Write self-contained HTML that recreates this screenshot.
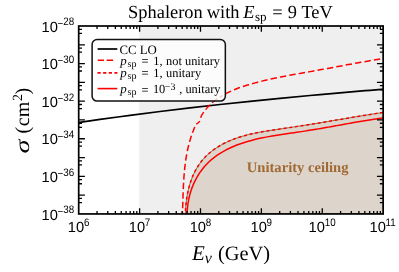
<!DOCTYPE html><html><head><meta charset="utf-8"><style>html,body{margin:0;padding:0;background:#fff}svg{display:block;will-change:transform}text{text-rendering:geometricPrecision}</style></head><body><svg width="399" height="272" viewBox="0 0 399 272">
<rect width="399" height="272" fill="#fff"/>
<defs><clipPath id="c"><rect x="78.70" y="26.00" width="304.45" height="187.95"/></clipPath></defs>
<rect x="139.2" y="26.00" width="243.95" height="187.95" fill="#efefef"/>
<g clip-path="url(#c)" fill="none">
<path d="M185.40,214.44 C185.43,213.59 185.48,211.07 185.57,209.37 C185.66,207.67 185.79,205.96 185.96,204.25 C186.13,202.54 186.32,200.82 186.57,199.11 C186.81,197.40 187.10,195.68 187.43,193.98 C187.76,192.28 188.13,190.59 188.55,188.91 C188.97,187.23 189.42,185.56 189.93,183.92 C190.44,182.27 191.00,180.64 191.60,179.04 C192.20,177.44 192.86,175.86 193.56,174.32 C194.26,172.78 195.01,171.26 195.82,169.79 C196.63,168.32 197.49,166.88 198.40,165.48 C199.31,164.08 200.28,162.72 201.30,161.42 C202.33,160.12 203.42,158.87 204.55,157.66 C205.69,156.45 206.88,155.29 208.11,154.18 C209.35,153.07 210.64,152.01 211.96,150.99 C213.28,149.97 214.65,149.01 216.05,148.08 C217.45,147.15 218.89,146.26 220.35,145.42 C221.81,144.58 223.31,143.79 224.83,143.03 C226.35,142.27 227.88,141.56 229.44,140.88 C231.00,140.20 232.58,139.58 234.16,138.98 C235.74,138.38 237.34,137.82 238.94,137.30 C240.54,136.78 242.16,136.30 243.77,135.84 C245.39,135.38 247.00,134.96 248.63,134.56 C250.25,134.16 251.89,133.80 253.52,133.45 C255.16,133.10 256.80,132.77 258.44,132.46 C260.08,132.15 261.74,131.86 263.39,131.58 C265.04,131.30 266.71,131.02 268.37,130.76 C270.03,130.50 271.69,130.24 273.36,129.99 C275.03,129.74 276.70,129.49 278.38,129.24 C280.06,128.99 281.73,128.74 283.41,128.49 C285.09,128.24 286.77,127.99 288.46,127.74 C290.14,127.49 291.83,127.23 293.52,126.98 C295.21,126.73 296.89,126.48 298.58,126.22 C300.27,125.96 301.97,125.70 303.66,125.44 C305.35,125.18 307.05,124.91 308.74,124.64 C310.43,124.37 312.12,124.10 313.81,123.83 C315.50,123.56 317.20,123.28 318.89,123.00 C320.58,122.72 322.27,122.44 323.96,122.16 C325.65,121.88 327.34,121.59 329.03,121.31 C330.72,121.03 332.41,120.74 334.09,120.46 C335.77,120.18 337.45,119.89 339.13,119.61 C340.81,119.33 342.49,119.03 344.16,118.75 C345.84,118.47 347.51,118.19 349.18,117.91 C350.85,117.63 352.51,117.35 354.17,117.07 C355.83,116.79 357.49,116.51 359.14,116.24 C360.79,115.97 362.44,115.70 364.09,115.43 C365.73,115.16 367.38,114.90 369.01,114.64 C370.64,114.38 372.27,114.12 373.90,113.87 C375.52,113.62 377.15,113.37 378.76,113.12 C380.37,112.88 382.78,112.52 383.58,112.40 L383.15,213.95 L185.40,213.95 Z" fill="#ddd4cb" stroke="#8f6c48" stroke-width="1.0"/>
<path d="M77.00,122.77 C80.83,122.22 91.17,120.68 100.00,119.44 C108.83,118.20 120.00,116.67 130.00,115.34 C140.00,114.02 150.00,112.73 160.00,111.49 C170.00,110.25 180.00,109.05 190.00,107.89 C200.00,106.73 210.00,105.60 220.00,104.51 C230.00,103.42 240.00,102.37 250.00,101.34 C260.00,100.31 270.00,99.31 280.00,98.34 C290.00,97.37 300.00,96.44 310.00,95.52 C320.00,94.60 330.83,93.65 340.00,92.85 C349.17,92.05 357.50,91.35 365.00,90.72 C372.50,90.09 381.67,89.34 385.00,89.07" stroke="#000" stroke-width="1.7"/>
<path d="M182.42,213.98 C182.44,213.35 182.51,211.47 182.56,210.22 C182.61,208.97 182.65,207.72 182.69,206.46 C182.73,205.21 182.77,203.95 182.81,202.69 C182.85,201.43 182.89,200.16 182.93,198.90 C182.97,197.64 183.01,196.38 183.05,195.12 C183.09,193.86 183.14,192.58 183.19,191.32 C183.24,190.06 183.29,188.79 183.35,187.53 C183.41,186.27 183.47,185.00 183.54,183.74 C183.61,182.48 183.68,181.21 183.76,179.95 C183.84,178.69 183.93,177.42 184.02,176.16 C184.12,174.90 184.22,173.65 184.33,172.39 C184.44,171.13 184.56,169.88 184.69,168.62 C184.82,167.37 184.97,166.11 185.12,164.86 C185.27,163.61 185.43,162.36 185.61,161.11 C185.79,159.86 185.98,158.62 186.18,157.38 C186.38,156.14 186.60,154.89 186.83,153.66 C187.06,152.43 187.32,151.20 187.58,149.97 C187.84,148.74 188.12,147.51 188.41,146.29 C188.70,145.07 189.02,143.85 189.35,142.64 C189.68,141.43 190.03,140.22 190.40,139.02 C190.77,137.82 191.16,136.61 191.57,135.42 C191.98,134.22 192.41,133.03 192.86,131.85 C193.31,130.66 193.89,129.45 194.28,128.31 C194.67,127.17 195.05,125.55 195.20,125.00 L199.30,122.00" stroke="#f00" stroke-width="1.5" stroke-dasharray="6.4 3.15" stroke-dashoffset="3.80"/>
<path d="M199.30,122.00 C199.61,121.05 200.41,117.98 201.18,116.29 C201.95,114.61 202.94,113.29 203.92,111.89 C204.90,110.49 205.94,109.15 207.04,107.88 C208.14,106.61 209.31,105.40 210.52,104.25 C211.73,103.10 212.99,102.00 214.30,100.96 C215.61,99.92 216.97,98.93 218.37,97.99 C219.77,97.05 221.97,95.76 222.69,95.31" stroke="#f00" stroke-width="1.5" stroke-dasharray="6.4 3.15" stroke-dashoffset="5.10"/>
<path d="M222.69,95.31 C223.44,94.91 225.67,93.66 227.21,92.89 C228.75,92.12 230.32,91.40 231.91,90.71 C233.50,90.02 235.12,89.37 236.75,88.74 C238.38,88.11 240.03,87.52 241.69,86.95 C243.35,86.38 245.03,85.85 246.71,85.33 C248.39,84.81 250.08,84.31 251.77,83.83 C253.46,83.35 255.14,82.89 256.83,82.44 C258.52,81.99 260.20,81.56 261.89,81.14 C263.58,80.72 265.26,80.32 266.95,79.93 C268.64,79.54 270.32,79.16 272.01,78.79 C273.70,78.42 275.39,78.06 277.08,77.71 C278.77,77.36 280.45,77.02 282.14,76.69 C283.83,76.36 285.52,76.04 287.21,75.72 C288.90,75.40 290.59,75.09 292.28,74.78 C293.97,74.47 295.65,74.16 297.34,73.86 C299.03,73.56 300.73,73.26 302.42,72.96 C304.11,72.66 305.80,72.37 307.49,72.07 C309.18,71.77 310.88,71.47 312.57,71.17 C314.26,70.87 315.95,70.56 317.64,70.25 C319.33,69.94 321.04,69.64 322.73,69.33 C324.43,69.02 326.12,68.70 327.81,68.39 C329.50,68.08 331.20,67.77 332.90,67.45 C334.60,67.14 336.29,66.82 337.99,66.50 C339.69,66.18 341.38,65.86 343.08,65.55 C344.78,65.23 346.48,64.92 348.18,64.61 C349.88,64.30 351.59,63.99 353.29,63.68 C354.99,63.37 356.69,63.05 358.39,62.75 C360.09,62.45 361.81,62.15 363.51,61.85 C365.21,61.55 366.92,61.25 368.62,60.96 C370.32,60.67 372.03,60.38 373.74,60.09 C375.45,59.81 377.16,59.52 378.87,59.25 C380.58,58.98 383.14,58.57 384.00,58.44" stroke="#f00" stroke-width="1.5" stroke-dasharray="6.4 3.15" stroke-dashoffset="6.55"/>
<path d="M185.40,214.44 C185.43,213.59 185.48,211.07 185.57,209.37 C185.66,207.67 185.79,205.96 185.96,204.25 C186.13,202.54 186.32,200.82 186.57,199.11 C186.81,197.40 187.10,195.68 187.43,193.98 C187.76,192.28 188.13,190.59 188.55,188.91 C188.97,187.23 189.42,185.56 189.93,183.92 C190.44,182.27 191.00,180.64 191.60,179.04 C192.20,177.44 192.86,175.86 193.56,174.32 C194.26,172.78 195.01,171.26 195.82,169.79 C196.63,168.32 197.49,166.88 198.40,165.48 C199.31,164.08 200.28,162.72 201.30,161.42 C202.33,160.12 203.42,158.87 204.55,157.66 C205.69,156.45 206.88,155.29 208.11,154.18 C209.35,153.07 210.64,152.01 211.96,150.99 C213.28,149.97 214.65,149.01 216.05,148.08 C217.45,147.15 218.89,146.26 220.35,145.42 C221.81,144.58 223.31,143.79 224.83,143.03 C226.35,142.27 227.88,141.56 229.44,140.88 C231.00,140.20 232.58,139.58 234.16,138.98 C235.74,138.38 237.34,137.82 238.94,137.30 C240.54,136.78 242.16,136.30 243.77,135.84 C245.39,135.38 247.00,134.96 248.63,134.56 C250.25,134.16 251.89,133.80 253.52,133.45 C255.16,133.10 256.80,132.77 258.44,132.46 C260.08,132.15 261.74,131.86 263.39,131.58 C265.04,131.30 266.71,131.02 268.37,130.76 C270.03,130.50 271.69,130.24 273.36,129.99 C275.03,129.74 276.70,129.49 278.38,129.24 C280.06,128.99 281.73,128.74 283.41,128.49 C285.09,128.24 286.77,127.99 288.46,127.74 C290.14,127.49 291.83,127.23 293.52,126.98 C295.21,126.73 296.89,126.48 298.58,126.22 C300.27,125.96 301.97,125.70 303.66,125.44 C305.35,125.18 307.05,124.91 308.74,124.64 C310.43,124.37 312.12,124.10 313.81,123.83 C315.50,123.56 317.20,123.28 318.89,123.00 C320.58,122.72 322.27,122.44 323.96,122.16 C325.65,121.88 327.34,121.59 329.03,121.31 C330.72,121.03 332.41,120.74 334.09,120.46 C335.77,120.18 337.45,119.89 339.13,119.61 C340.81,119.33 342.49,119.03 344.16,118.75 C345.84,118.47 347.51,118.19 349.18,117.91 C350.85,117.63 352.51,117.35 354.17,117.07 C355.83,116.79 357.49,116.51 359.14,116.24 C360.79,115.97 362.44,115.70 364.09,115.43 C365.73,115.16 367.38,114.90 369.01,114.64 C370.64,114.38 372.27,114.12 373.90,113.87 C375.52,113.62 377.15,113.37 378.76,113.12 C380.37,112.88 382.78,112.52 383.58,112.40" stroke="#f00" stroke-width="1.5" stroke-dasharray="2.95 2.8" stroke-dashoffset="2.3"/>
<path d="M187.08,214.37 C187.12,213.55 187.19,211.08 187.32,209.44 C187.45,207.80 187.62,206.15 187.85,204.51 C188.08,202.87 188.36,201.24 188.69,199.62 C189.02,198.00 189.39,196.38 189.82,194.78 C190.25,193.18 190.72,191.59 191.25,190.02 C191.78,188.45 192.36,186.90 192.99,185.37 C193.62,183.84 194.29,182.34 195.02,180.87 C195.75,179.40 196.52,177.94 197.35,176.53 C198.18,175.12 199.05,173.73 199.98,172.38 C200.91,171.03 201.89,169.71 202.92,168.44 C203.95,167.17 205.02,165.94 206.14,164.75 C207.26,163.56 208.43,162.41 209.63,161.31 C210.83,160.21 212.08,159.14 213.36,158.12 C214.64,157.10 215.96,156.12 217.30,155.19 C218.64,154.26 220.02,153.37 221.42,152.52 C222.82,151.67 224.25,150.87 225.69,150.11 C227.13,149.35 228.60,148.63 230.08,147.95 C231.56,147.26 233.06,146.62 234.57,146.00 C236.08,145.38 237.60,144.80 239.13,144.25 C240.66,143.70 242.19,143.18 243.73,142.68 C245.27,142.18 246.82,141.71 248.37,141.26 C249.92,140.81 251.48,140.39 253.05,139.99 C254.62,139.59 256.19,139.20 257.77,138.84 C259.35,138.48 260.92,138.14 262.51,137.81 C264.10,137.48 265.69,137.17 267.29,136.87 C268.89,136.57 270.49,136.29 272.10,136.01 C273.71,135.73 275.32,135.47 276.93,135.21 C278.54,134.95 280.16,134.71 281.78,134.47 C283.40,134.23 285.02,133.99 286.65,133.75 C288.27,133.51 289.90,133.28 291.53,133.05 C293.16,132.82 294.80,132.59 296.43,132.35 C298.06,132.11 299.69,131.88 301.33,131.63 C302.97,131.38 304.61,131.14 306.25,130.88 C307.89,130.62 309.53,130.36 311.17,130.09 C312.81,129.82 314.45,129.55 316.09,129.27 C317.73,128.99 319.37,128.71 321.01,128.43 C322.65,128.15 324.28,127.86 325.92,127.57 C327.56,127.28 329.19,126.98 330.83,126.69 C332.46,126.40 334.10,126.11 335.73,125.81 C337.36,125.52 338.99,125.21 340.61,124.92 C342.24,124.63 343.86,124.34 345.48,124.05 C347.10,123.76 348.71,123.47 350.33,123.18 C351.94,122.89 353.56,122.61 355.17,122.33 C356.78,122.05 358.37,121.78 359.97,121.51 C361.57,121.24 363.16,120.97 364.75,120.71 C366.34,120.45 367.92,120.20 369.50,119.95 C371.08,119.70 372.65,119.47 374.22,119.24 C375.79,119.01 377.36,118.78 378.91,118.57 C380.47,118.35 382.78,118.05 383.55,117.95" stroke="#f00" stroke-width="1.5"/>
</g>
<path d="M97.03,213.95 v-3.0 M97.03,26.00 v3.0 M107.75,213.95 v-3.0 M107.75,26.00 v3.0 M115.36,213.95 v-3.0 M115.36,26.00 v3.0 M121.26,213.95 v-3.0 M121.26,26.00 v3.0 M126.08,213.95 v-3.0 M126.08,26.00 v3.0 M130.16,213.95 v-3.0 M130.16,26.00 v3.0 M133.69,213.95 v-3.0 M133.69,26.00 v3.0 M136.80,213.95 v-3.0 M136.80,26.00 v3.0 M139.59,213.95 v-5.8 M139.59,26.00 v5.8 M157.92,213.95 v-3.0 M157.92,26.00 v3.0 M168.64,213.95 v-3.0 M168.64,26.00 v3.0 M176.25,213.95 v-3.0 M176.25,26.00 v3.0 M182.15,213.95 v-3.0 M182.15,26.00 v3.0 M186.97,213.95 v-3.0 M186.97,26.00 v3.0 M191.05,213.95 v-3.0 M191.05,26.00 v3.0 M194.58,213.95 v-3.0 M194.58,26.00 v3.0 M197.69,213.95 v-3.0 M197.69,26.00 v3.0 M200.48,213.95 v-5.8 M200.48,26.00 v5.8 M218.81,213.95 v-3.0 M218.81,26.00 v3.0 M229.53,213.95 v-3.0 M229.53,26.00 v3.0 M237.14,213.95 v-3.0 M237.14,26.00 v3.0 M243.04,213.95 v-3.0 M243.04,26.00 v3.0 M247.86,213.95 v-3.0 M247.86,26.00 v3.0 M251.94,213.95 v-3.0 M251.94,26.00 v3.0 M255.47,213.95 v-3.0 M255.47,26.00 v3.0 M258.58,213.95 v-3.0 M258.58,26.00 v3.0 M261.37,213.95 v-5.8 M261.37,26.00 v5.8 M279.70,213.95 v-3.0 M279.70,26.00 v3.0 M290.42,213.95 v-3.0 M290.42,26.00 v3.0 M298.03,213.95 v-3.0 M298.03,26.00 v3.0 M303.93,213.95 v-3.0 M303.93,26.00 v3.0 M308.75,213.95 v-3.0 M308.75,26.00 v3.0 M312.83,213.95 v-3.0 M312.83,26.00 v3.0 M316.36,213.95 v-3.0 M316.36,26.00 v3.0 M319.47,213.95 v-3.0 M319.47,26.00 v3.0 M322.26,213.95 v-5.8 M322.26,26.00 v5.8 M340.59,213.95 v-3.0 M340.59,26.00 v3.0 M351.31,213.95 v-3.0 M351.31,26.00 v3.0 M358.92,213.95 v-3.0 M358.92,26.00 v3.0 M364.82,213.95 v-3.0 M364.82,26.00 v3.0 M369.64,213.95 v-3.0 M369.64,26.00 v3.0 M373.72,213.95 v-3.0 M373.72,26.00 v3.0 M377.25,213.95 v-3.0 M377.25,26.00 v3.0 M380.36,213.95 v-3.0 M380.36,26.00 v3.0 M78.70,29.30 h3.3 M383.15,29.30 h-3.3 M78.70,33.40 h3.3 M383.15,33.40 h-3.3 M78.70,44.80 h6.2 M383.15,44.80 h-6.2 M78.70,48.09 h3.3 M383.15,48.09 h-3.3 M78.70,52.20 h3.3 M383.15,52.20 h-3.3 M78.70,63.59 h6.2 M383.15,63.59 h-6.2 M78.70,66.89 h3.3 M383.15,66.89 h-3.3 M78.70,70.99 h3.3 M383.15,70.99 h-3.3 M78.70,82.38 h6.2 M383.15,82.38 h-6.2 M78.70,85.68 h3.3 M383.15,85.68 h-3.3 M78.70,89.78 h3.3 M383.15,89.78 h-3.3 M78.70,101.18 h6.2 M383.15,101.18 h-6.2 M78.70,104.48 h3.3 M383.15,104.48 h-3.3 M78.70,108.58 h3.3 M383.15,108.58 h-3.3 M78.70,119.97 h6.2 M383.15,119.97 h-6.2 M78.70,123.27 h3.3 M383.15,123.27 h-3.3 M78.70,127.38 h3.3 M383.15,127.38 h-3.3 M78.70,138.77 h6.2 M383.15,138.77 h-6.2 M78.70,142.07 h3.3 M383.15,142.07 h-3.3 M78.70,146.17 h3.3 M383.15,146.17 h-3.3 M78.70,157.56 h6.2 M383.15,157.56 h-6.2 M78.70,160.87 h3.3 M383.15,160.87 h-3.3 M78.70,164.97 h3.3 M383.15,164.97 h-3.3 M78.70,176.36 h6.2 M383.15,176.36 h-6.2 M78.70,179.66 h3.3 M383.15,179.66 h-3.3 M78.70,183.76 h3.3 M383.15,183.76 h-3.3 M78.70,195.15 h6.2 M383.15,195.15 h-6.2 M78.70,198.45 h3.3 M383.15,198.45 h-3.3 M78.70,202.55 h3.3 M383.15,202.55 h-3.3" stroke="#000" stroke-width="1.3" fill="none"/>
<rect x="78.70" y="26.00" width="304.45" height="187.95" fill="none" stroke="#000" stroke-width="1.70"/>
<text x="67.85" y="231.70" font-family="Liberation Sans, sans-serif" font-size="14.7">10</text><text transform="translate(83.95,226.20) scale(0.900,1)" font-family="Liberation Sans, sans-serif" font-size="10.9">6</text>
<text x="128.74" y="231.70" font-family="Liberation Sans, sans-serif" font-size="14.7">10</text><text transform="translate(144.84,226.20) scale(0.900,1)" font-family="Liberation Sans, sans-serif" font-size="10.9">7</text>
<text x="189.63" y="231.70" font-family="Liberation Sans, sans-serif" font-size="14.7">10</text><text transform="translate(205.73,226.20) scale(0.900,1)" font-family="Liberation Sans, sans-serif" font-size="10.9">8</text>
<text x="250.52" y="231.70" font-family="Liberation Sans, sans-serif" font-size="14.7">10</text><text transform="translate(266.62,226.20) scale(0.900,1)" font-family="Liberation Sans, sans-serif" font-size="10.9">9</text>
<text x="308.61" y="231.70" font-family="Liberation Sans, sans-serif" font-size="14.7">10</text><text transform="translate(324.71,226.20) scale(0.900,1)" font-family="Liberation Sans, sans-serif" font-size="10.9">10</text>
<text x="369.50" y="231.70" font-family="Liberation Sans, sans-serif" font-size="14.7">10</text><text transform="translate(385.60,226.20) scale(0.900,1)" font-family="Liberation Sans, sans-serif" font-size="10.9">11</text>
<text x="41.50" y="31.70" font-family="Liberation Sans, sans-serif" font-size="14.7">10</text><text transform="translate(57.60,26.85) scale(0.900,1)" font-family="Liberation Sans, sans-serif" font-size="10.9">−</text><text transform="translate(63.33,25.45) scale(0.900,1)" font-family="Liberation Sans, sans-serif" font-size="10.9">28</text>
<text x="41.50" y="69.29" font-family="Liberation Sans, sans-serif" font-size="14.7">10</text><text transform="translate(57.60,64.44) scale(0.900,1)" font-family="Liberation Sans, sans-serif" font-size="10.9">−</text><text transform="translate(63.33,63.04) scale(0.900,1)" font-family="Liberation Sans, sans-serif" font-size="10.9">30</text>
<text x="41.50" y="106.88" font-family="Liberation Sans, sans-serif" font-size="14.7">10</text><text transform="translate(57.60,102.03) scale(0.900,1)" font-family="Liberation Sans, sans-serif" font-size="10.9">−</text><text transform="translate(63.33,100.63) scale(0.900,1)" font-family="Liberation Sans, sans-serif" font-size="10.9">32</text>
<text x="41.50" y="144.47" font-family="Liberation Sans, sans-serif" font-size="14.7">10</text><text transform="translate(57.60,139.62) scale(0.900,1)" font-family="Liberation Sans, sans-serif" font-size="10.9">−</text><text transform="translate(63.33,138.22) scale(0.900,1)" font-family="Liberation Sans, sans-serif" font-size="10.9">34</text>
<text x="41.50" y="182.06" font-family="Liberation Sans, sans-serif" font-size="14.7">10</text><text transform="translate(57.60,177.21) scale(0.900,1)" font-family="Liberation Sans, sans-serif" font-size="10.9">−</text><text transform="translate(63.33,175.81) scale(0.900,1)" font-family="Liberation Sans, sans-serif" font-size="10.9">36</text>
<text x="41.50" y="219.65" font-family="Liberation Sans, sans-serif" font-size="14.7">10</text><text transform="translate(57.60,214.80) scale(0.900,1)" font-family="Liberation Sans, sans-serif" font-size="10.9">−</text><text transform="translate(63.33,213.40) scale(0.900,1)" font-family="Liberation Sans, sans-serif" font-size="10.9">38</text>
<text x="128.10" y="17.50" font-family="Liberation Serif, serif" font-size="18.4" >Sphaleron</text>
<text x="206.80" y="17.50" font-family="Liberation Serif, serif" font-size="18.4" >with</text>
<text x="243.20" y="17.50" font-family="Liberation Serif, serif" font-size="18.4" font-style="italic">E</text>
<text x="255.00" y="21.10" font-family="Liberation Serif, serif" font-size="13.1" >sp</text>
<text x="272.20" y="17.50" font-family="Liberation Serif, serif" font-size="18.4" >=</text>
<text x="287.70" y="17.50" font-family="Liberation Serif, serif" font-size="18.4" >9</text>
<text x="301.40" y="17.50" font-family="Liberation Serif, serif" font-size="18.4" >TeV</text>
<text x="192" y="260.2" font-family="Liberation Serif, serif" font-size="20"><tspan font-style="italic" font-size="21">E</tspan><tspan font-size="16" font-style="italic" dy="3">ν</tspan></text>
<text x="217.9" y="260.2" font-family="Liberation Serif, serif" font-size="20.4">(GeV)</text>
<text transform="translate(29.4,153.4) rotate(-90) scale(1.38,1)" font-family="Liberation Serif, serif" font-size="20.5" font-style="italic">σ</text>
<text transform="translate(29.40,133.60) rotate(-90)" font-family="Liberation Serif, serif" font-size="20.0" >(</text>
<text transform="translate(29.40,126.20) rotate(-90)" font-family="Liberation Serif, serif" font-size="20.0" >c</text>
<text transform="translate(29.40,117.30) rotate(-90)" font-family="Liberation Serif, serif" font-size="20.0" >m</text>
<text transform="translate(21.80,100.90) rotate(-90)" font-family="Liberation Serif, serif" font-size="14.0" >2</text>
<text transform="translate(29.40,94.60) rotate(-90)" font-family="Liberation Serif, serif" font-size="20.0" >)</text>
<text x="246.8" y="171.8" font-family="Liberation Serif, serif" font-size="14.6" font-weight="bold" fill="#a06a35">Unitarity ceiling</text>
<rect x="92.1" y="39.6" width="133.25" height="61.5" rx="5" ry="5" fill="#fff" fill-opacity="0.8" stroke="#111" stroke-width="1.5"/>
<path d="M97.6,49.00 H117.3" stroke="#000" stroke-width="1.7"/>
<path d="M97.7,60.30 H104.0 M106.7,60.30 H113.1" stroke="#f00" stroke-width="1.6"/>
<path d="M97.5,72.90 H117.4" stroke="#f00" stroke-width="1.6" stroke-dasharray="3.2 2.43"/>
<path d="M97.6,88.60 H117.3" stroke="#f00" stroke-width="1.6"/>
<text x="119.50" y="53.50" font-family="Liberation Serif, serif" font-size="12.8" >CC LO</text>
<text x="120.30" y="64.60" font-family="Liberation Serif, serif" font-size="12.9" font-style="italic">p</text><text x="127.50" y="66.50" font-family="Liberation Serif, serif" font-size="10.0" >sp</text><text x="141.40" y="65.20" font-family="Liberation Serif, serif" font-size="12.4" >=</text>
<text x="153.20" y="64.60" font-family="Liberation Serif, serif" font-size="12.4" >1,</text>
<text x="166.00" y="64.60" font-family="Liberation Serif, serif" font-size="12.4" >not unitary</text>
<text x="120.30" y="76.80" font-family="Liberation Serif, serif" font-size="12.9" font-style="italic">p</text><text x="127.50" y="78.70" font-family="Liberation Serif, serif" font-size="10.0" >sp</text><text x="141.40" y="77.40" font-family="Liberation Serif, serif" font-size="12.4" >=</text>
<text x="153.20" y="76.80" font-family="Liberation Serif, serif" font-size="12.4" >1,</text>
<text x="166.00" y="76.80" font-family="Liberation Serif, serif" font-size="12.4" >unitary</text>
<text x="120.30" y="93.30" font-family="Liberation Serif, serif" font-size="12.9" font-style="italic">p</text><text x="127.50" y="95.20" font-family="Liberation Serif, serif" font-size="10.0" >sp</text><text x="141.40" y="93.90" font-family="Liberation Serif, serif" font-size="12.4" >=</text>
<text x="152.90" y="93.30" font-family="Liberation Serif, serif" font-size="12.4" >10</text>
<text x="164.80" y="90.40" font-family="Liberation Serif, serif" font-size="10.0" >−3</text>
<text x="179.20" y="93.30" font-family="Liberation Serif, serif" font-size="12.4" >,</text>
<text x="185.40" y="93.30" font-family="Liberation Serif, serif" font-size="12.4" >unitary</text>
</svg></body></html>
